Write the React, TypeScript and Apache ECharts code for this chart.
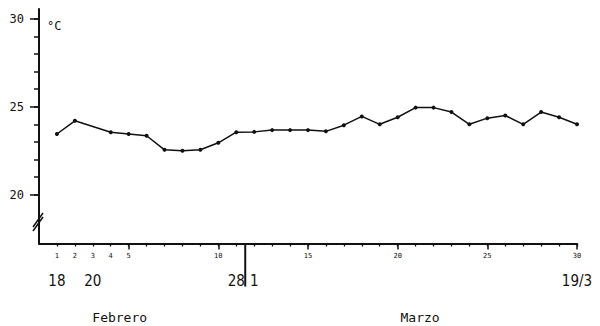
import React, { useEffect, useRef } from "react";
import * as echarts from "echarts";

const days = [1, 2, 4, 5, 6, 7, 8, 9, 10, 11, 12, 13, 14, 15, 16, 17, 18, 19, 20, 21, 22, 23, 24, 25, 26, 27, 28, 29, 30];
const temps = [23.45, 24.2, 23.55, 23.45, 23.35, 22.55, 22.5, 22.55, 22.95, 23.55, 23.57, 23.67, 23.67, 23.67, 23.6, 23.95, 24.45, 24.0, 24.4, 24.95, 24.95, 24.7, 24.0, 24.35, 24.5, 24.0, 24.7, 24.4, 24.0];

const dayTicks = Array.from({ length: 30 }, (_, i) => i + 1);
const dayMajorTicks = [5, 10, 15, 20, 25, 30];
const dayLabels = [1, 2, 3, 4, 5, 10, 15, 20, 25, 30];
const dateLabelDays = [1, 3, 11, 12, 30];
const dateLabelTexts = ["18", "20", "28", "1", "19/3"];
const monthPositions = [4.5, 21.25];
const monthNames = ["Febrero", "Marzo"];
const monthSeparatorDay = 11.5;

const tempMinorTicks = [20, 21, 22, 23, 24, 25, 26, 27, 28, 29, 30];
const tempMajorTicks = [20, 25, 30];
const yMin = 17.22;
const yMax = 30.56;

const INK = "#111";
const MONO = "'DejaVu Sans Mono', monospace";
const NARROW = "'Liberation Sans Narrow', 'DejaVu Sans Condensed', 'DejaVu Sans Mono', sans-serif";

export default function App() {
  const ref = useRef<HTMLDivElement>(null);
  useEffect(() => {
    if (!ref.current) return;
    const chart = echarts.init(ref.current, null, { renderer: "svg" });
    const baseX = { type: "value", min: 0, max: 30, gridIndex: 0, position: "bottom", splitLine: { show: false } };
    const baseY = { type: "value", min: yMin, max: yMax, gridIndex: 0, position: "left", splitLine: { show: false } };
    chart.setOption({
      animation: false,
      backgroundColor: "#fff",
      grid: { left: 39, right: 23, top: 9, bottom: 82.5 },
      xAxis: [
        {
          ...baseX,
          axisLine: { show: true, lineStyle: { color: INK, width: 2 } },
          axisTick: { show: true, customValues: dayTicks, length: 3, lineStyle: { color: INK, width: 1.3 } },
          axisLabel: { customValues: dayLabels, fontSize: 7, margin: 9, color: INK, fontFamily: MONO },
        },
        {
          ...baseX,
          axisLine: { show: false },
          axisTick: { show: true, customValues: dayMajorTicks, length: 6, lineStyle: { color: INK, width: 1.5 } },
          axisLabel: { show: false },
        },
        {
          ...baseX,
          axisLine: { show: false },
          axisTick: { show: false },
          axisLabel: {
            customValues: dateLabelDays,
            margin: 30,
            fontSize: 15,
            color: INK,
            fontFamily: NARROW,
            formatter: (v: number) => {
              const i = dateLabelDays.indexOf(v);
              return i >= 0 ? dateLabelTexts[i] : "";
            },
          },
        },
        {
          ...baseX,
          axisLine: { show: false },
          axisTick: { show: false },
          axisLabel: {
            customValues: monthPositions,
            margin: 67,
            fontSize: 13,
            color: INK,
            fontFamily: MONO,
            formatter: (v: number) => {
              const i = monthPositions.indexOf(v);
              return i >= 0 ? monthNames[i] : "";
            },
          },
        },
      ],
      yAxis: [
        {
          ...baseY,
          axisLine: { show: true, lineStyle: { color: INK, width: 2 } },
          axisTick: { show: true, customValues: tempMinorTicks, length: 5, lineStyle: { color: INK, width: 1.5 } },
          axisLabel: { customValues: tempMajorTicks, margin: 15, fontSize: 12, color: INK, fontFamily: MONO },
        },
        {
          ...baseY,
          axisLine: { show: false },
          axisTick: { show: true, customValues: tempMajorTicks, length: 9, lineStyle: { color: INK, width: 1.5 } },
          axisLabel: { show: false },
        },
      ],
      series: [
        {
          type: "line",
          xAxisIndex: 0,
          yAxisIndex: 0,
          data: days.map((d, i) => [d, temps[i]]),
          symbol: "circle",
          symbolSize: 4,
          lineStyle: { color: INK, width: 1.5 },
          itemStyle: { color: INK },
        },
      ],
    });

    const sepX = chart.convertToPixel({ xAxisIndex: 0 }, monthSeparatorDay) as number;
    const x0 = chart.convertToPixel({ xAxisIndex: 0 }, 0) as number;
    const yBottom = chart.convertToPixel({ yAxisIndex: 0 }, yMin) as number;
    const yBreak = chart.convertToPixel({ yAxisIndex: 0 }, 18.5) as number;
    chart.setOption({
      graphic: [
        {
          type: "line",
          shape: { x1: sepX, y1: yBottom, x2: sepX, y2: yBottom + 43 },
          style: { stroke: INK, lineWidth: 2 },
        },
        {
          type: "line",
          shape: { x1: x0 - 6, y1: yBreak + 6, x2: x0 + 4, y2: yBreak - 8 },
          style: { stroke: INK, lineWidth: 1.5 },
        },
        {
          type: "line",
          shape: { x1: x0 - 6, y1: yBreak + 10, x2: x0 + 4, y2: yBreak - 4 },
          style: { stroke: INK, lineWidth: 1.5 },
        },
        {
          type: "text",
          x: x0 + 8,
          y: 20,
          style: { text: "°C", fill: INK, fontSize: 12, fontFamily: MONO },
        },
      ],
    });
    return () => chart.dispose();
  }, []);
  return <div ref={ref} style={{ position: "absolute", left: 0, top: 0, width: 600, height: 326 }} />;
}
